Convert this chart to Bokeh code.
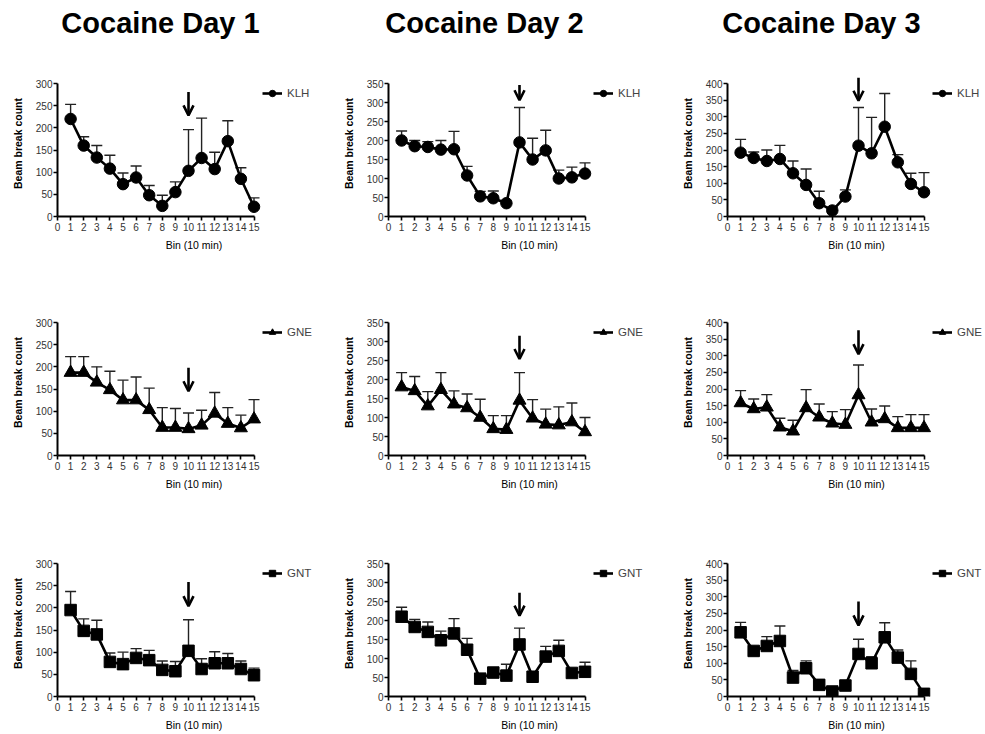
from bokeh.plotting import figure
from bokeh.layouts import column, row
from bokeh.models import (Range1d, FixedTicker, Whisker, TeeHead, Arrow, OpenHead,
                          ColumnDataSource, Legend, LegendItem)
from bokeh.core.properties import value
from bokeh.embed import file_html
from bokeh.resources import INLINE

FONT = "Liberation Sans"

bins = list(range(1, 16))
x_ticks = list(range(0, 16))
day_titles = ["Cocaine Day 1", "Cocaine Day 2", "Cocaine Day 3"]
groups = ["KLH", "GNE", "GNT"]
group_markers = ["circle", "triangle", "square"]
day_ymax = [300, 350, 400]
day_ystep = [50, 50, 50]
injection_bin = 10

# ---- KLH ----
klh_d1 = [220, 160, 133, 108, 73, 88, 48, 24, 55, 103, 132, 107, 170, 85, 22]
klh_d1_err = [253, 180, 160, 138, 98, 114, 70, 48, 78, 196, 222, 145, 216, 110, 42]
klh_d2 = [200, 185, 183, 176, 177, 108, 53, 48, 35, 195, 150, 174, 100, 103, 113]
klh_d2_err = [225, 200, 197, 200, 224, 132, 66, 67, 35, 287, 206, 227, 122, 130, 141]
klh_d3 = [192, 176, 167, 173, 130, 95, 40, 18, 60, 213, 190, 270, 163, 98, 73]
klh_d3_err = [232, 194, 200, 214, 167, 143, 76, 28, 80, 328, 298, 370, 186, 130, 132]

# ---- GNE ----
gne_d1 = [187, 187, 165, 148, 125, 125, 103, 63, 63, 60, 68, 95, 72, 62, 82]
gne_d1_err = [223, 223, 200, 190, 170, 177, 152, 108, 106, 96, 102, 142, 108, 91, 126]
gne_d2 = [180, 170, 130, 173, 135, 125, 100, 70, 68, 145, 98, 82, 80, 88, 62]
gne_d2_err = [218, 208, 168, 218, 170, 162, 148, 105, 105, 218, 147, 122, 128, 138, 100]
gne_d3 = [158, 140, 145, 85, 73, 143, 115, 97, 93, 182, 100, 110, 83, 83, 83]
gne_d3_err = [195, 170, 183, 112, 106, 198, 155, 132, 138, 272, 140, 149, 117, 123, 123]

# ---- GNT ----
gnt_d1 = [195, 148, 140, 78, 73, 87, 82, 60, 57, 103, 62, 75, 75, 62, 48]
gnt_d1_err = [237, 175, 172, 98, 100, 108, 104, 80, 79, 173, 85, 101, 97, 80, 64]
gnt_d2 = [210, 183, 170, 148, 166, 123, 47, 63, 55, 137, 52, 105, 120, 62, 65]
gnt_d2_err = [235, 203, 196, 172, 205, 153, 55, 73, 85, 180, 60, 132, 148, 73, 90]
gnt_d3 = [193, 137, 152, 167, 57, 85, 35, 15, 33, 128, 100, 178, 117, 68, 8]
gnt_d3_err = [223, 150, 180, 212, 78, 107, 45, 20, 45, 172, 120, 222, 140, 107, 10]

# arrows marking the injection (tail, tip) in y units, per day
klh_arrow_tail = [281, 346, 417]
klh_arrow_tip = [228, 306, 348]
gne_arrow_tail = [198, 315, 377]
gne_arrow_tip = [145, 254, 305]
gnt_arrow_tail = [258, 273, 286]
gnt_arrow_tip = [204, 213, 214]

means = {"KLH": [klh_d1, klh_d2, klh_d3],
         "GNE": [gne_d1, gne_d2, gne_d3],
         "GNT": [gnt_d1, gnt_d2, gnt_d3]}
uppers = {"KLH": [klh_d1_err, klh_d2_err, klh_d3_err],
          "GNE": [gne_d1_err, gne_d2_err, gne_d3_err],
          "GNT": [gnt_d1_err, gnt_d2_err, gnt_d3_err]}
arrows = {"KLH": (klh_arrow_tail, klh_arrow_tip),
          "GNE": (gne_arrow_tail, gne_arrow_tip),
          "GNT": (gnt_arrow_tail, gnt_arrow_tip)}

# layout (pixels)
col_widths = [330, 340, 315]
col_border_left = [57, 58, 57]
title_center_px = [160, 154, 151]   # title centre, from each column's left edge
TITLE_H = 45
TITLE_MID_FROM_TOP = 22
row_heights = [216, 239, 234]
row_border_top = [25, 48, 50]
row_border_bottom = [45, 45, 38]
PX_PER_BIN = 13.1
FRAME_H = 146
AXIS_H = 133


def make_title(c):
    w = col_widths[c]
    t = figure(width=w, height=TITLE_H, output_backend="svg", toolbar_location=None,
               x_range=Range1d(0, w), y_range=Range1d(0, TITLE_H),
               min_border=0, x_axis_type=None, y_axis_type=None)
    t.outline_line_color = None
    t.xgrid.visible = False
    t.ygrid.visible = False
    t.text(x=[title_center_px[c]], y=[TITLE_H - TITLE_MID_FROM_TOP], text=[day_titles[c]],
           text_font=value(FONT), text_font_size="29px", text_font_style="bold",
           text_color="black", text_align="center", text_baseline="middle")
    return t


def make_panel(r, c):
    g = groups[r]
    ymax = day_ymax[c]
    yend = ymax * FRAME_H / AXIS_H
    frame_w = col_widths[c] - col_border_left[c]
    xend = frame_w / PX_PER_BIN
    p = figure(width=col_widths[c], height=row_heights[r],
               output_backend="svg", toolbar_location=None,
               x_range=Range1d(0, xend), y_range=Range1d(0, yend),
               min_border_left=col_border_left[c],
               min_border_right=0,
               min_border_top=row_border_top[r],
               min_border_bottom=row_border_bottom[r])
    p.outline_line_color = None
    p.xgrid.visible = False
    p.ygrid.visible = False
    p.background_fill_color = "white"
    p.border_fill_color = "white"

    src = ColumnDataSource(dict(x=bins, y=means[g][c], up=uppers[g][c]))
    wh = Whisker(source=src, base="x", lower="y", upper="up", dimension="height",
                 line_color="#222222", line_width=1.4,
                 upper_head=TeeHead(size=11, line_color="#222222", line_width=1.4),
                 lower_head=None)
    p.add_layout(wh)
    lr = p.line("x", "y", source=src, line_color="black", line_width=2.6)
    sr = p.scatter("x", "y", source=src, marker=group_markers[r],
                   size=13 if group_markers[r] == "triangle" else 11.5,
                   fill_color="black", line_color="black")

    tail, tip = arrows[g]
    p.add_layout(Arrow(x_start=injection_bin, y_start=tail[c],
                       x_end=injection_bin, y_end=tip[c],
                       line_width=2.6, line_color="black",
                       end=OpenHead(size=10, line_width=2.6, line_color="black")))

    leg = Legend(items=[LegendItem(label=g, renderers=[lr, sr])],
                 location=(int(15.5 * PX_PER_BIN) + 2, FRAME_H - 31),
                 border_line_color=None,
                 background_fill_alpha=0, margin=0, padding=2,
                 glyph_width=20, glyph_height=16, label_standoff=5,
                 label_text_font=FONT, label_text_font_size="11.5px")
    p.add_layout(leg)

    for ax in (p.xaxis[0], p.yaxis[0]):
        ax.axis_line_width = 2
        ax.axis_line_color = "black"
        ax.major_tick_line_width = 1.6
        ax.major_tick_line_color = "black"
        ax.major_tick_out = 4
        ax.major_tick_in = 0
        ax.minor_tick_line_color = None
        ax.major_label_text_font = FONT
        ax.major_label_text_font_size = "10px"
        ax.major_label_text_color = "#333333"
        ax.axis_label_text_font = FONT
        ax.axis_label_text_color = "black"
        ax.axis_label_text_font_size = "10.5px"

    p.xaxis[0].ticker = FixedTicker(ticks=x_ticks)
    p.xaxis[0].bounds = (0, 15)
    p.xaxis[0].major_label_standoff = 2
    p.xaxis[0].axis_label = "Bin (10 min)"
    p.xaxis[0].axis_label_text_font_style = "normal"
    p.xaxis[0].axis_label_standoff = 5

    p.yaxis[0].ticker = FixedTicker(ticks=list(range(0, ymax + 1, day_ystep[c])))
    p.yaxis[0].bounds = (0, ymax)
    p.yaxis[0].major_label_standoff = 1
    p.yaxis[0].axis_label = "Beam break count"
    p.yaxis[0].axis_label_text_font_style = "bold"
    p.yaxis[0].axis_label_standoff = 9
    return p


title_row = row(*[make_title(c) for c in range(3)], spacing=0)
rows = [row(*[make_panel(r, c) for c in range(3)], spacing=0) for r in range(3)]
layout = column(title_row, *rows, spacing=0)

open("out.html", "w").write(file_html(layout, INLINE))
